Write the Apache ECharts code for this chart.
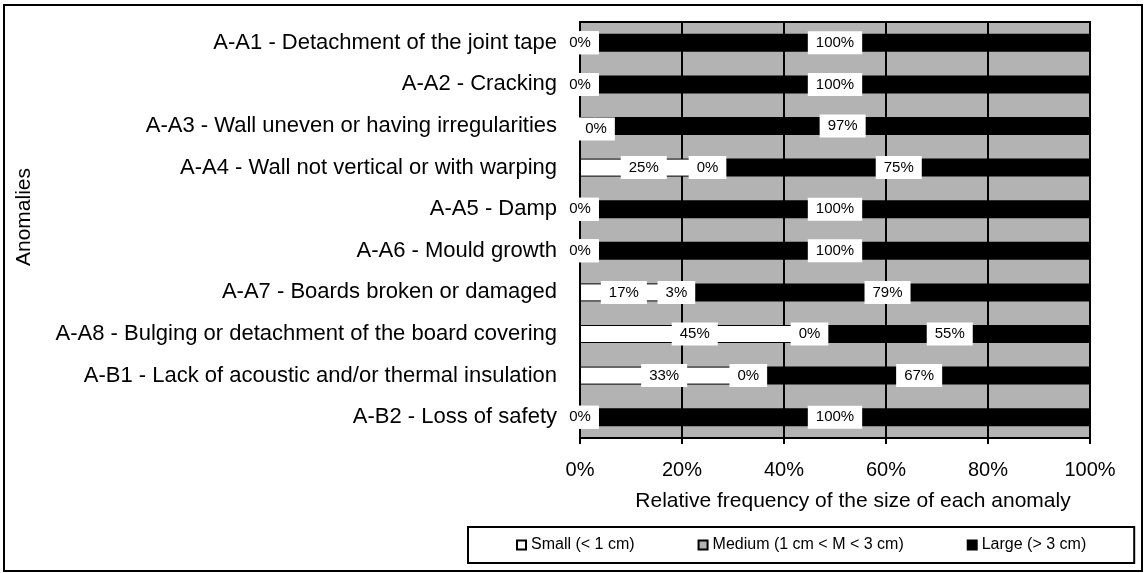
<!DOCTYPE html>
<html>
<head>
<meta charset="utf-8">
<script src="https://cdn.jsdelivr.net/npm/echarts@6/dist/echarts.min.js"></script>
<style>
  html, body { margin: 0; padding: 0; background: #fff; }
  #chart { width: 1145px; height: 573px; }
</style>
</head>
<body>
<div id="chart"></div>
<script>
// anomalies, top to bottom
const categories = [
  'A-A1 - Detachment of the joint tape',
  'A-A2 - Cracking',
  'A-A3 - Wall uneven or having irregularities',
  'A-A4 - Wall not vertical or with warping',
  'A-A5 - Damp',
  'A-A6 - Mould growth',
  'A-A7 - Boards broken or damaged',
  'A-A8 - Bulging or detachment of the board covering',
  'A-B1 - Lack of acoustic and/or thermal insulation',
  'A-B2 - Loss of safety',
]
// relative frequency (%) of each size
const smallPct = [0, 0, 0, 25, 0, 0, 17.2, 45, 33, 0]
const mediumPct = [0, 0, 3, 0, 0, 0, 3.4, 0, 0, 0]
const largePct = [100, 100, 97, 75, 100, 100, 79.4, 55, 67, 100]
const xTicks = [0, 20, 40, 60, 80, 100]

const FONT = "'Liberation Sans', Arial, sans-serif"

const chart = echarts.init(document.getElementById('chart'))

const pctLabel = {
  show: true,
  position: 'inside',
  color: '#000',
  fontFamily: FONT,
  fontSize: 15,
  backgroundColor: '#fff',
  padding: [4, 8],
  formatter: (p) => Math.round(p.value) + '%',
}

// A-A3: only one "0%" box is drawn, a little right of the axis
const smallData = smallPct.map((v, i) =>
  i === 2 ? { value: v, label: { offset: [16, 3] } } : v
)
const mediumData = mediumPct.map((v, i) =>
  i === 2 ? { value: v, label: { show: false } } : v
)

const option = {
  animation: false,
  backgroundColor: '#fff',
  grid: {
    left: 580,
    right: 55,
    top: 22,
    bottom: 135,
    show: true,
    backgroundColor: '#b3b3b3',
    borderColor: '#000',
    borderWidth: 2,
  },
  legend: {
    left: 468,
    top: 527,
    padding: [10, 48],
    itemGap: 63,
    itemWidth: 9,
    itemHeight: 9,
    icon: 'rect',
    borderColor: '#000',
    borderWidth: 2,
    backgroundColor: '#fff',
    itemStyle: { borderColor: '#000', borderWidth: 2 },
    textStyle: { fontFamily: FONT, fontSize: 16, color: '#000' },
    data: ['Small (< 1 cm)', 'Medium (1 cm < M < 3 cm)', 'Large (> 3 cm)'],
  },
  xAxis: {
    type: 'value',
    min: 0,
    max: 100,
    interval: 20,
    name: 'Relative frequency of the size of each anomaly',
    nameLocation: 'middle',
    nameGap: 53,
    nameTextStyle: { fontFamily: FONT, fontSize: 21, color: '#000', padding: [0, 0, 0, 36] },
    axisLine: { show: true, lineStyle: { color: '#000', width: 2 } },
    axisTick: { show: true, length: 6, lineStyle: { color: '#000', width: 2 } },
    axisLabel: {
      margin: 22,
      fontFamily: FONT,
      fontSize: 20,
      color: '#000',
      formatter: (v) => (xTicks.includes(v) ? v + '%' : ''),
    },
    splitLine: { show: true, lineStyle: { color: '#000', width: 2 } },
  },
  yAxis: {
    type: 'category',
    inverse: true,
    data: categories,
    axisLine: { show: true, lineStyle: { color: '#000', width: 2 } },
    axisTick: { show: false },
    axisLabel: { margin: 23, fontFamily: FONT, fontSize: 22, color: '#000' },
  },
  graphic: [
    {
      type: 'rect',
      shape: { x: 4, y: 5, width: 1138, height: 566 },
      style: { fill: 'none', stroke: '#000', lineWidth: 2 },
      silent: true,
    },
    {
      type: 'text',
      x: 24,
      y: 217,
      rotation: Math.PI / 2,
      style: {
        text: 'Anomalies',
        font: '21px ' + FONT,
        fill: '#000',
        align: 'center',
        verticalAlign: 'middle',
      },
      silent: true,
    },
  ],
  series: [
    {
      name: 'Small (< 1 cm)',
      type: 'bar',
      stack: 'size',
      barWidth: 18,
      data: smallData,
      itemStyle: { color: '#fff', borderColor: '#000', borderWidth: 1 },
      label: pctLabel,
    },
    {
      name: 'Medium (1 cm < M < 3 cm)',
      type: 'bar',
      stack: 'size',
      barWidth: 18,
      data: mediumData,
      itemStyle: { color: '#b3b3b3', borderColor: '#000', borderWidth: 1 },
      label: pctLabel,
    },
    {
      name: 'Large (> 3 cm)',
      type: 'bar',
      stack: 'size',
      barWidth: 18,
      data: largePct,
      itemStyle: { color: '#000', borderColor: '#000', borderWidth: 0 },
      label: pctLabel,
    },
  ],
}

chart.setOption(option)
</script>
</body>
</html>
